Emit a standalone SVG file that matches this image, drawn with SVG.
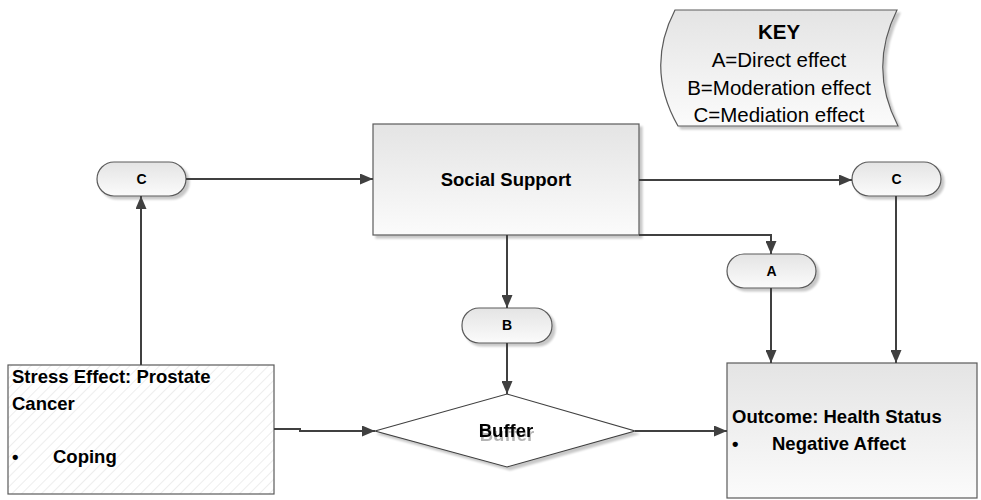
<svg xmlns="http://www.w3.org/2000/svg" width="981" height="500" viewBox="0 0 981 500">
<defs>
<linearGradient id="g" x1="0" y1="0" x2="0" y2="1">
<stop offset="0" stop-color="#e4e4e4"/>
<stop offset="1" stop-color="#fbfbfb"/>
</linearGradient>
<pattern id="hatch" patternUnits="userSpaceOnUse" width="7" height="7" patternTransform="rotate(45)">
<rect width="7" height="7" fill="#ffffff"/>
<line x1="0" y1="0" x2="0" y2="7" stroke="#e2e2e2" stroke-width="1.2"/>
</pattern>
<filter id="sh" x="-10%" y="-10%" width="130%" height="140%">
<feGaussianBlur in="SourceAlpha" stdDeviation="1"/>
<feOffset dx="3" dy="3" result="o"/>
<feComponentTransfer><feFuncA type="linear" slope="0.22"/></feComponentTransfer>
<feMerge><feMergeNode/><feMergeNode in="SourceGraphic"/></feMerge>
</filter>
<filter id="tsh" x="-10%" y="-10%" width="130%" height="160%">
<feOffset in="SourceAlpha" dx="1" dy="4" result="o"/>
<feComponentTransfer><feFuncA type="linear" slope="0.3"/></feComponentTransfer>
<feMerge><feMergeNode/><feMergeNode in="SourceGraphic"/></feMerge>
</filter>
<marker id="ar" markerWidth="13" markerHeight="11" refX="13" refY="5.5" orient="auto" markerUnits="userSpaceOnUse">
<path d="M0,0 L13,5.5 L0,11 Z" fill="#404040"/>
</marker>
</defs>
<style>
.box{fill:url(#g);stroke:#5a5a5a;stroke-width:1.2}
.t{font-family:"Liberation Sans",Arial,sans-serif;font-weight:bold;font-size:18.5px;fill:#000}
.k{font-family:"Liberation Sans",Arial,sans-serif;font-size:20.5px;fill:#000;text-anchor:middle}
.p{font-family:"Liberation Sans",Arial,sans-serif;font-weight:bold;font-size:14px;fill:#000;text-anchor:middle}
.c{fill:none;stroke:#404040;stroke-width:2;marker-end:url(#ar)}
</style>

<g id="key">
<path class="box" d="M675,10 L897,10 Q868,68 898,126 L678,126 Q645,68 675,10 Z" filter="url(#sh)"/>
<text class="k" x="779" y="39" font-weight="bold">KEY</text>
<text class="k" x="779" y="67">A=Direct effect</text>
<text class="k" x="779" y="95">B=Moderation effect</text>
<text class="k" x="779" y="122">C=Mediation effect</text>
</g>

<g id="social-support">
<rect class="box" x="373" y="124" width="266" height="111" filter="url(#sh)"/>
<text class="t" x="506" y="186" text-anchor="middle">Social Support</text>
</g>

<g id="stress-effect">
<rect x="8" y="365" width="266" height="129" fill="url(#hatch)" stroke="#5a5a5a" stroke-width="1.2"/>
<text class="t" x="12" y="383">Stress Effect: Prostate</text>
<text class="t" x="12" y="410">Cancer</text>
<text class="t" x="12" y="463">•</text>
<text class="t" x="53" y="463">Coping</text>
</g>

<g id="buffer">
<path d="M375,431 L507,394 L635,431 L507,467 Z" fill="#ffffff" stroke="#404040" stroke-width="1.2" filter="url(#sh)"/>
<text class="t" x="506" y="437" text-anchor="middle" filter="url(#tsh)">Buffer</text>
</g>

<g id="outcome">
<rect class="box" x="727" y="363" width="250" height="135"/>
<text class="t" x="732" y="423">Outcome: Health Status</text>
<text class="t" x="732" y="450">•</text>
<text class="t" x="772" y="450">Negative Affect</text>
</g>

<g id="c-left">
<rect class="box" x="97" y="162" width="89" height="34" rx="17" filter="url(#sh)"/>
<text class="p" x="141.5" y="184">C</text>
</g>

<g id="c-right">
<rect class="box" x="852" y="162" width="89" height="34" rx="17" filter="url(#sh)"/>
<text class="p" x="896.5" y="184">C</text>
</g>

<g id="a-pill">
<rect class="box" x="727" y="254" width="89" height="34" rx="17" filter="url(#sh)"/>
<text class="p" x="771.5" y="276">A</text>
</g>

<g id="b-pill">
<rect class="box" x="462" y="308" width="90" height="35" rx="17" filter="url(#sh)"/>
<text class="p" x="507" y="330">B</text>
</g>

<g id="connectors">
<path class="c" d="M141,365 L141,196"/>
<path class="c" d="M186,179 L373,179"/>
<path class="c" d="M639,180 L852,180"/>
<path class="c" d="M639,235 L771,235 L771,254"/>
<path class="c" d="M771,288 L771,363"/>
<path class="c" d="M896,196 L896,363"/>
<path class="c" d="M507,235 L507,308"/>
<path class="c" d="M507,343 L507,394"/>
<path class="c" d="M274,429 L300,429 L300,431 L375,431"/>
<path class="c" d="M635,431 L727,431"/>
</g>
</svg>
